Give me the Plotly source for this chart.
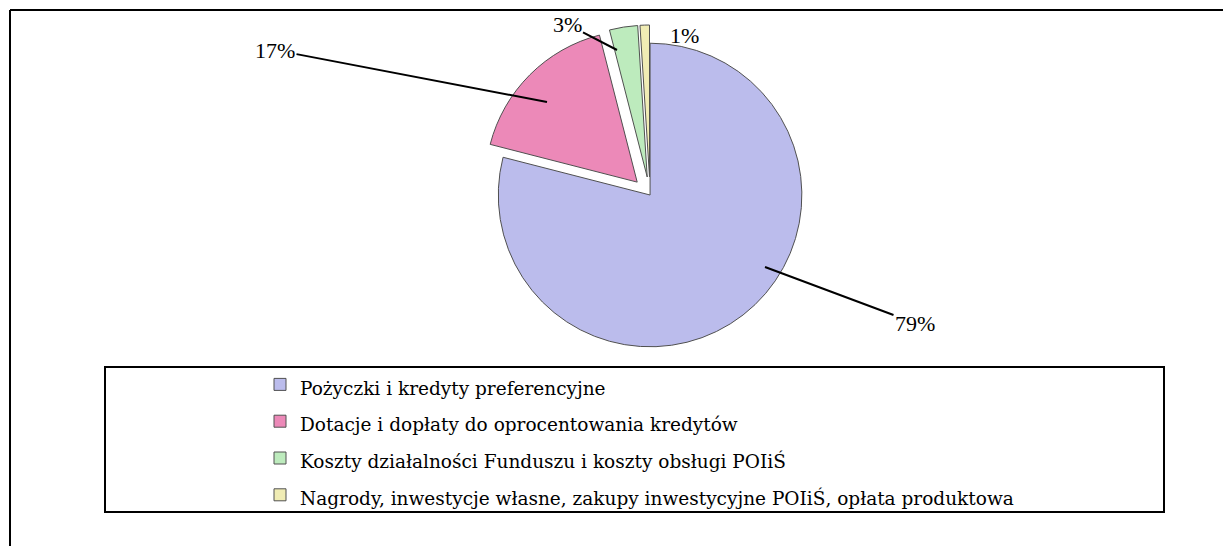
import plotly.graph_objects as go

categories = [
    "Pożyczki i kredyty preferencyjne",
    "Dotacje i dopłaty do oprocentowania kredytów",
    "Koszty działalności Funduszu i koszty obsługi POIiŚ",
    "Nagrody, inwestycje własne, zakupy inwestycyjne POIiŚ, opłata produktowa",
]
shares = [79, 17, 3, 1]
slice_colors = ["#BBBCEC", "#EC89B8", "#BDEBBD", "#F0ECB4"]
pulls = [0, 0.12, 0.12, 0.12]

# the page body has an 8px margin; the figure is sized to fill the rest
OFF = 8
W, H = 1231 - OFF, 546 - OFF


def px(x):
    """page pixel x -> paper fraction"""
    return (x - OFF) / W


def py(y):
    """page pixel y -> paper fraction"""
    return 1 - (y - OFF) / H


legend_labels = [f'<span style="font-size:18.5px">{c}</span>' for c in categories]

fig = go.Figure()
fig.add_trace(go.Pie(
    labels=legend_labels,
    values=shares,
    sort=False,
    direction="clockwise",
    rotation=0,
    pull=pulls,
    textinfo="none",
    hoverinfo="percent",
    marker=dict(colors=slice_colors, line=dict(color="#505050", width=1)),
    domain=dict(x=[0.25, 0.8], y=[py(365), py(25)]),
    showlegend=True,
))

# percentage labels with leader lines
label_specs = [
    # (value index, head x, head y, ax, ay, showarrow)
    (0, 765, 267, 150, 56, True),
    (1, 547, 102, -272, -52, True),
    (2, 617, 50, -50, -26, True),
    (3, 684, 36, 0, 0, False),
]
for idx, hx, hy, ax, ay, arrow in label_specs:
    fig.add_annotation(
        x=px(hx), y=py(hy), xref="paper", yref="paper",
        xanchor="center", yanchor="middle",
        text=f"{shares[idx]}%",
        showarrow=arrow, ax=ax, ay=ay,
        arrowhead=0, arrowwidth=2, arrowcolor="black", standoff=0,
        font=dict(family="Liberation Serif", size=22, color="black"),
    )

# outer frame (top and left edges visible)
fig.add_shape(type="line", xref="paper", yref="paper",
              x0=px(10), y0=py(10), x1=1, y1=py(10),
              line=dict(color="black", width=2))
fig.add_shape(type="line", xref="paper", yref="paper",
              x0=px(10), y0=py(10), x1=px(10), y1=0,
              line=dict(color="black", width=2))
# legend box
fig.add_shape(type="rect", xref="paper", yref="paper",
              x0=px(105), y0=py(512), x1=px(1164), y1=py(367),
              line=dict(color="black", width=2))

fig.update_layout(
    width=W, height=H,
    margin=dict(l=0, r=0, t=0, b=0),
    paper_bgcolor="white",
    plot_bgcolor="white",
    legend=dict(
        x=px(260), y=py(361), xanchor="left", yanchor="top",
        bgcolor="rgba(0,0,0,0)", borderwidth=0,
        font=dict(family="DejaVu Serif", size=26, color="black"),
        traceorder="normal",
    ),
)

fig.write_html("out.html")
